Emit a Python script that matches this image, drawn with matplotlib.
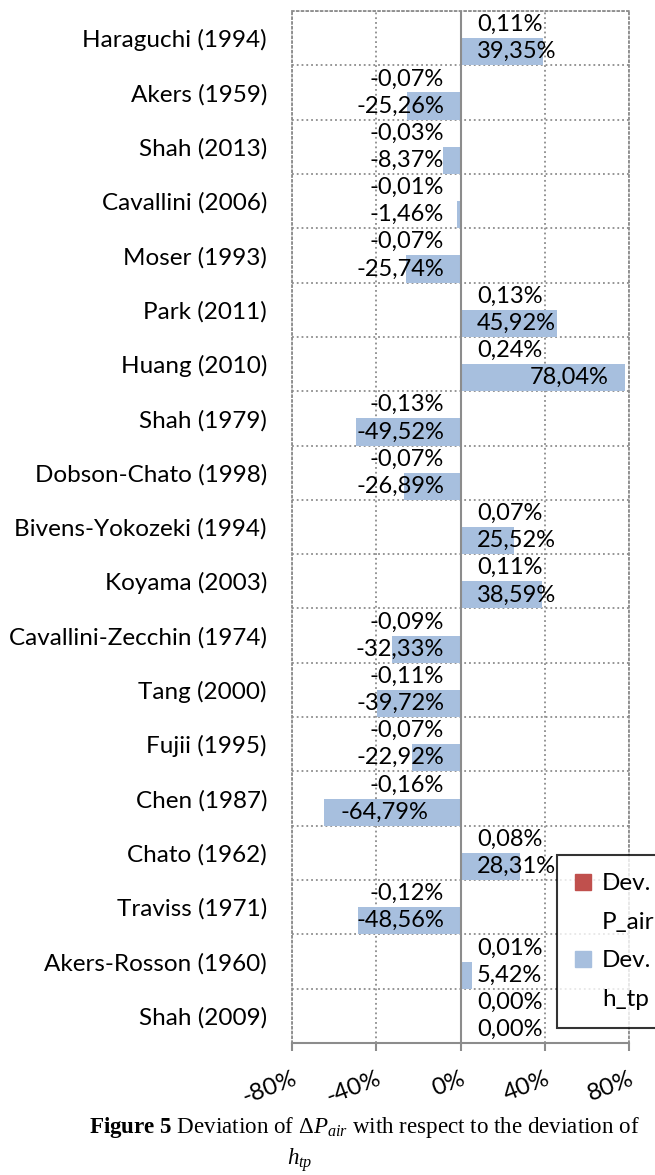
import matplotlib
matplotlib.use("Agg")
import matplotlib.pyplot as plt
import numpy as np
from matplotlib.patches import Patch

# Data (in % deviation)
names = ["Haraguchi (1994)", "Akers (1959)", "Shah (2013)", "Cavallini (2006)",
         "Moser (1993)", "Park (2011)", "Huang (2010)", "Shah (1979)",
         "Dobson-Chato (1998)", "Bivens-Yokozeki (1994)", "Koyama (2003)",
         "Cavallini-Zecchin (1974)", "Tang (2000)", "Fujii (1995)", "Chen (1987)",
         "Chato (1962)", "Traviss (1971)", "Akers-Rosson (1960)", "Shah (2009)"]
dev_p_air = [0.11, -0.07, -0.03, -0.01, -0.07, 0.13, 0.24, -0.13, -0.07, 0.07,
             0.11, -0.09, -0.11, -0.07, -0.16, 0.08, -0.12, 0.01, 0.00]
dev_h_tp = [39.35, -25.26, -8.37, -1.46, -25.74, 45.92, 78.04, -49.52, -26.89, 25.52,
            38.59, -32.33, -39.72, -22.92, -64.79, 28.31, -48.56, 5.42, 0.00]
xticks = [-80, -40, 0, 40, 80]

plt.rcParams['font.family'] = ['Lato', 'DejaVu Sans']
plt.rcParams['mathtext.fontset'] = 'custom'
plt.rcParams['mathtext.rm'] = 'Liberation Serif'
plt.rcParams['mathtext.it'] = 'Liberation Serif:italic'
plt.rcParams['mathtext.bf'] = 'Liberation Serif:bold'

red = '#C0504D'
blue = '#A7BFDE'
grey = '#8C8C8C'
fs = 17.5   # category / tick text
vfs = 17    # value labels

fig = plt.figure(figsize=(6.55, 11.75), dpi=100)
ax = fig.add_axes([292/655, 1 - 1043/1175, 337/655, 1032/1175])

y = np.arange(len(names))
h = 0.5
ax.barh(y - h/2, dev_p_air, height=h, color=red, zorder=3)
ax.barh(y + h/2, dev_h_tp, height=h, color=blue, zorder=3)

def fmt(v):
    return ('%.2f%%' % v).replace('.', ',')

off = 7.8
for i in range(len(names)):
    sgn = dev_h_tp[i] >= 0
    # P_air labels
    v = dev_p_air[i]
    if sgn:
        ax.text(off, i - h/2, fmt(v), ha='left', va='center', fontsize=vfs, zorder=4)
    else:
        ax.text(-off, i - h/2, fmt(v), ha='right', va='center', fontsize=vfs, zorder=4)
    # h_tp labels (long bars get the label inside the bar end)
    v = dev_h_tp[i]
    if abs(v) > 60:
        if v > 0:
            ax.text(v - off, i + h/2, fmt(v), ha='right', va='center', fontsize=vfs, zorder=4)
        else:
            ax.text(v + off, i + h/2, fmt(v), ha='left', va='center', fontsize=vfs, zorder=4)
    elif sgn:
        ax.text(off, i + h/2, fmt(v), ha='left', va='center', fontsize=vfs, zorder=4)
    else:
        ax.text(-off, i + h/2, fmt(v), ha='right', va='center', fontsize=vfs, zorder=4)

ax.set_xlim(-80, 80)
ax.set_ylim(len(names) - 0.5, -0.5)
ax.set_xticks(xticks)
ax.set_xticklabels(['%d%%' % t for t in xticks], rotation=21, ha='right',
                   rotation_mode='anchor', fontsize=fs)
ax.set_yticks(y)
ax.set_yticklabels(names, fontsize=fs)
ax.set_yticks(np.arange(-0.5, len(names)), minor=True)
ax.tick_params(axis='y', which='both', length=0, pad=18)
ax.tick_params(axis='x', length=6, width=1.5, color=grey, pad=12)

ax.grid(axis='x', which='major', ls=':', color=grey, lw=1.3, zorder=0)
ax.grid(axis='y', which='minor', ls=':', color=grey, lw=1.3, zorder=0)
ax.axvline(0, color=grey, lw=1.5, zorder=3.5)

for s in ['left', 'right', 'top']:
    ax.spines[s].set_linestyle(':')
    ax.spines[s].set_color(grey)
    ax.spines[s].set_linewidth(1.3)
ax.spines['bottom'].set_color(grey)
ax.spines['bottom'].set_linewidth(1.5)

# legend: two-line labels, swatch beside the first line
blank = Patch(facecolor='none', edgecolor='none')
leg = fig.legend([Patch(color=red), blank, Patch(color=blue), blank],
                 ['Dev.', 'P_air', 'Dev.', 'h_tp'],
                 loc='upper left', bbox_to_anchor=(557/655, 1 - 855/1175),
                 fontsize=fs, frameon=True, fancybox=False, handlelength=0.65,
                 handleheight=0.65, handletextpad=0.45, labelspacing=0.72,
                 borderpad=0.75, borderaxespad=0)
leg.get_frame().set_edgecolor('black')
leg.get_frame().set_linewidth(1.5)

fig.text(364/655, 1 - 1128/1175,
         r'$\mathbf{Figure\ 5}$ Deviation of $\mathit{ΔP}_{\mathit{air}}$ with respect to the deviation of',
         ha='center', va='center', fontsize=16.6, family='Liberation Serif')
fig.text(300/655, 1 - 1160/1175, r'$\mathit{h}_{\mathit{tp}}$',
         ha='center', va='center', fontsize=16.6, family='Liberation Serif')

fig.savefig('out.png', dpi=100)
